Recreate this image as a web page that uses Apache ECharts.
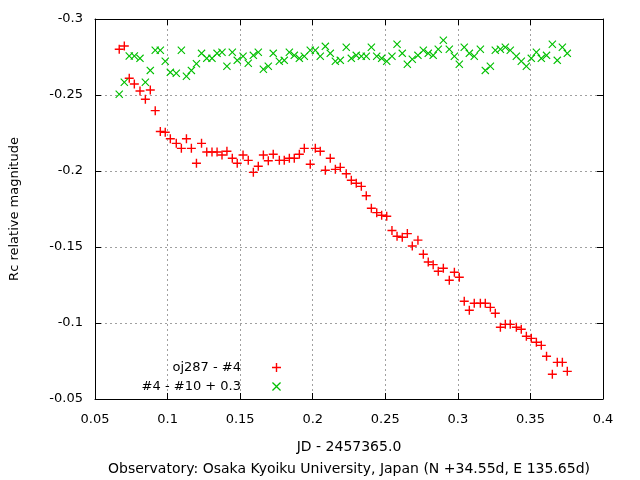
<!DOCTYPE html>
<html>
<head>
<meta charset="utf-8">
<script src="https://cdn.jsdelivr.net/npm/echarts@6/dist/echarts.min.js"></script>
<style>
  html, body { margin: 0; padding: 0; background: #fff; }
  #chart { width: 640px; height: 480px; }
</style>
</head>
<body>
<div id="chart"></div>
<script>
// JD - 2457365.0
const jd = [
  0.0667, 0.0702, 0.0736, 0.0771, 0.0810, 0.0847, 0.0881, 0.0915, 0.0950, 0.0984,
  0.1019, 0.1060, 0.1095, 0.1130, 0.1164, 0.1199, 0.1234, 0.1270, 0.1306, 0.1341,
  0.1375, 0.1409, 0.1446, 0.1480, 0.1520, 0.1556, 0.1591, 0.1625, 0.1660, 0.1694,
  0.1728, 0.1770, 0.1804, 0.1839, 0.1873, 0.1908, 0.1942, 0.1983, 0.2018, 0.2052,
  0.2087, 0.2121, 0.2156, 0.2190, 0.2231, 0.2266, 0.2300, 0.2335, 0.2369, 0.2404,
  0.2441, 0.2475, 0.2510, 0.2546, 0.2581, 0.2617, 0.2652, 0.2686, 0.2725, 0.2762,
  0.2796, 0.2830, 0.2865, 0.2900, 0.2941, 0.2976, 0.3010, 0.3044, 0.3079, 0.3113,
  0.3155, 0.3189, 0.3224, 0.3258, 0.3293, 0.3327, 0.3361, 0.3403, 0.3437, 0.3472,
  0.3506, 0.3541, 0.3575, 0.3611, 0.3651, 0.3685, 0.3720, 0.3754
]

// oj287 - #4
const ojMag = [
  -0.2801, -0.2822, -0.2610, -0.2572, -0.2526, -0.2472, -0.2533, -0.2397, -0.2260, -0.2255,
  -0.2212, -0.2182, -0.2149, -0.2212, -0.2149, -0.2051, -0.2182, -0.2125, -0.2125, -0.2125,
  -0.2105, -0.2130, -0.2084, -0.2051, -0.2105, -0.2070, -0.1991, -0.2031, -0.2105, -0.2067,
  -0.2110, -0.2070, -0.2070, -0.2084, -0.2084, -0.2110, -0.2149, -0.2044, -0.2149, -0.2130,
  -0.2005, -0.2084, -0.2011, -0.2024, -0.1982, -0.1939, -0.1919, -0.1899, -0.1837, -0.1755,
  -0.1726, -0.1709, -0.1702, -0.1609, -0.1571, -0.1564, -0.1588, -0.1507, -0.1545, -0.1452,
  -0.1401, -0.1384, -0.1340, -0.1360, -0.1281, -0.1334, -0.1301, -0.1143, -0.1084, -0.1130,
  -0.1130, -0.1130, -0.1103, -0.1064, -0.0972, -0.0991, -0.0991, -0.0972, -0.0959, -0.0913,
  -0.0899, -0.0873, -0.0853, -0.0781, -0.0663, -0.0741, -0.0741, -0.0682
]

// #4 - #10 + 0.3
const checkMag = [
  -0.2505, -0.2584, -0.2757, -0.2757, -0.2741, -0.2584, -0.2662, -0.2794, -0.2794, -0.2722,
  -0.2649, -0.2643, -0.2794, -0.2623, -0.2662, -0.2706, -0.2774, -0.2741, -0.2741, -0.2774,
  -0.2781, -0.2689, -0.2781, -0.2728, -0.2755, -0.2709, -0.2761, -0.2781, -0.2669, -0.2689,
  -0.2774, -0.2722, -0.2728, -0.2781, -0.2761, -0.2741, -0.2755, -0.2794, -0.2794, -0.2755,
  -0.2820, -0.2774, -0.2722, -0.2728, -0.2814, -0.2741, -0.2761, -0.2755, -0.2755, -0.2814,
  -0.2755, -0.2741, -0.2722, -0.2755, -0.2834, -0.2774, -0.2702, -0.2735, -0.2761, -0.2794,
  -0.2774, -0.2761, -0.2801, -0.2860, -0.2801, -0.2755, -0.2702, -0.2814, -0.2774, -0.2755,
  -0.2801, -0.2662, -0.2689, -0.2794, -0.2801, -0.2814, -0.2794, -0.2755, -0.2722, -0.2689,
  -0.2741, -0.2781, -0.2741, -0.2761, -0.2834, -0.2728, -0.2814, -0.2774
]

const seriesNames = ['oj287 - #4', '#4 - #10 + 0.3']
const xTitle = 'JD - 2457365.0\nObservatory: Osaka Kyoiku University, Japan (N +34.55d, E 135.65d)'
const yTitle = 'Rc relative magnitude'

const FONT = 'DejaVu Sans'
const plusPath = 'path://M3.8,0H5.2V3.8H9V5.2H5.2V9H3.8V5.2H0V3.8H3.8Z'
const crossPath = 'path://M0,1L1,0L5,4L9,0L10,1L6,5L10,9L9,10L5,6L1,10L0,9L4,5Z'

function pairs (xs, ys) {
  let out = []
  for (let i = 0; i < xs.length; i++) {
    out.push([xs[i], ys[i]])
  }
  return out
}

const gridLine = { show: true, lineStyle: { color: '#a0a0a0', type: [2, 3], width: 1 } }
const border = { show: true, onZero: false, lineStyle: { color: '#000', width: 1 } }
const tick = { show: true, inside: true, length: 6, lineStyle: { color: '#000' } }
const label = { color: '#000', fontFamily: FONT, fontSize: 13 }

const myChart = echarts.init(document.getElementById('chart'))
myChart.setOption({
  animation: false,
  backgroundColor: '#fff',
  grid: { left: 95, right: 37, top: 19, bottom: 81, outerBoundsMode: 'none', containLabel: false },
  legend: [
    {
      data: [seriesNames[0]], orient: 'vertical', align: 'right',
      right: 359, top: 361, padding: 0, itemWidth: 9, itemHeight: 9,
      textStyle: { color: '#000', fontFamily: FONT, fontSize: 13, padding: [0, 26, 0, 0] }
    },
    {
      data: [seriesNames[1]], orient: 'vertical', align: 'right',
      right: 359, top: 380, padding: 0, itemWidth: 9, itemHeight: 9,
      textStyle: { color: '#000', fontFamily: FONT, fontSize: 13, padding: [0, 26, 0, 0] }
    }
  ],
  xAxis: [
    {
      type: 'value', min: 0.05, max: 0.4, interval: 0.05, position: 'bottom',
      axisLine: border, axisTick: tick, splitLine: gridLine,
      axisLabel: Object.assign({ margin: 14 }, label),
      name: xTitle, nameLocation: 'middle', nameGap: 37,
      nameTextStyle: { color: '#000', fontFamily: FONT, fontSize: 14, lineHeight: 22, verticalAlign: 'top' }
    },
    {
      type: 'value', min: 0.05, max: 0.4, interval: 0.05, position: 'top',
      axisLine: border, axisTick: tick, splitLine: { show: false }, axisLabel: { show: false }
    }
  ],
  yAxis: [
    {
      type: 'value', min: -0.3, max: -0.05, interval: 0.05, inverse: true, position: 'left',
      axisLine: border, axisTick: tick, splitLine: gridLine,
      axisLabel: Object.assign({ margin: 12 }, label),
      name: yTitle, nameLocation: 'middle', nameGap: 74,
      nameTextStyle: { color: '#000', fontFamily: FONT, fontSize: 13 }
    },
    {
      type: 'value', min: -0.3, max: -0.05, interval: 0.05, inverse: true, position: 'right',
      axisLine: border, axisTick: tick, splitLine: { show: false }, axisLabel: { show: false }
    }
  ],
  series: [
    {
      name: seriesNames[0], type: 'scatter', symbol: plusPath, symbolSize: 9,
      itemStyle: { color: '#ff0000', opacity: 1 },
      data: pairs(jd, ojMag)
    },
    {
      name: seriesNames[1], type: 'scatter', symbol: crossPath, symbolSize: 8,
      itemStyle: { color: '#00c000', opacity: 1 },
      data: pairs(jd, checkMag)
    }
  ]
})
</script>
</body>
</html>
